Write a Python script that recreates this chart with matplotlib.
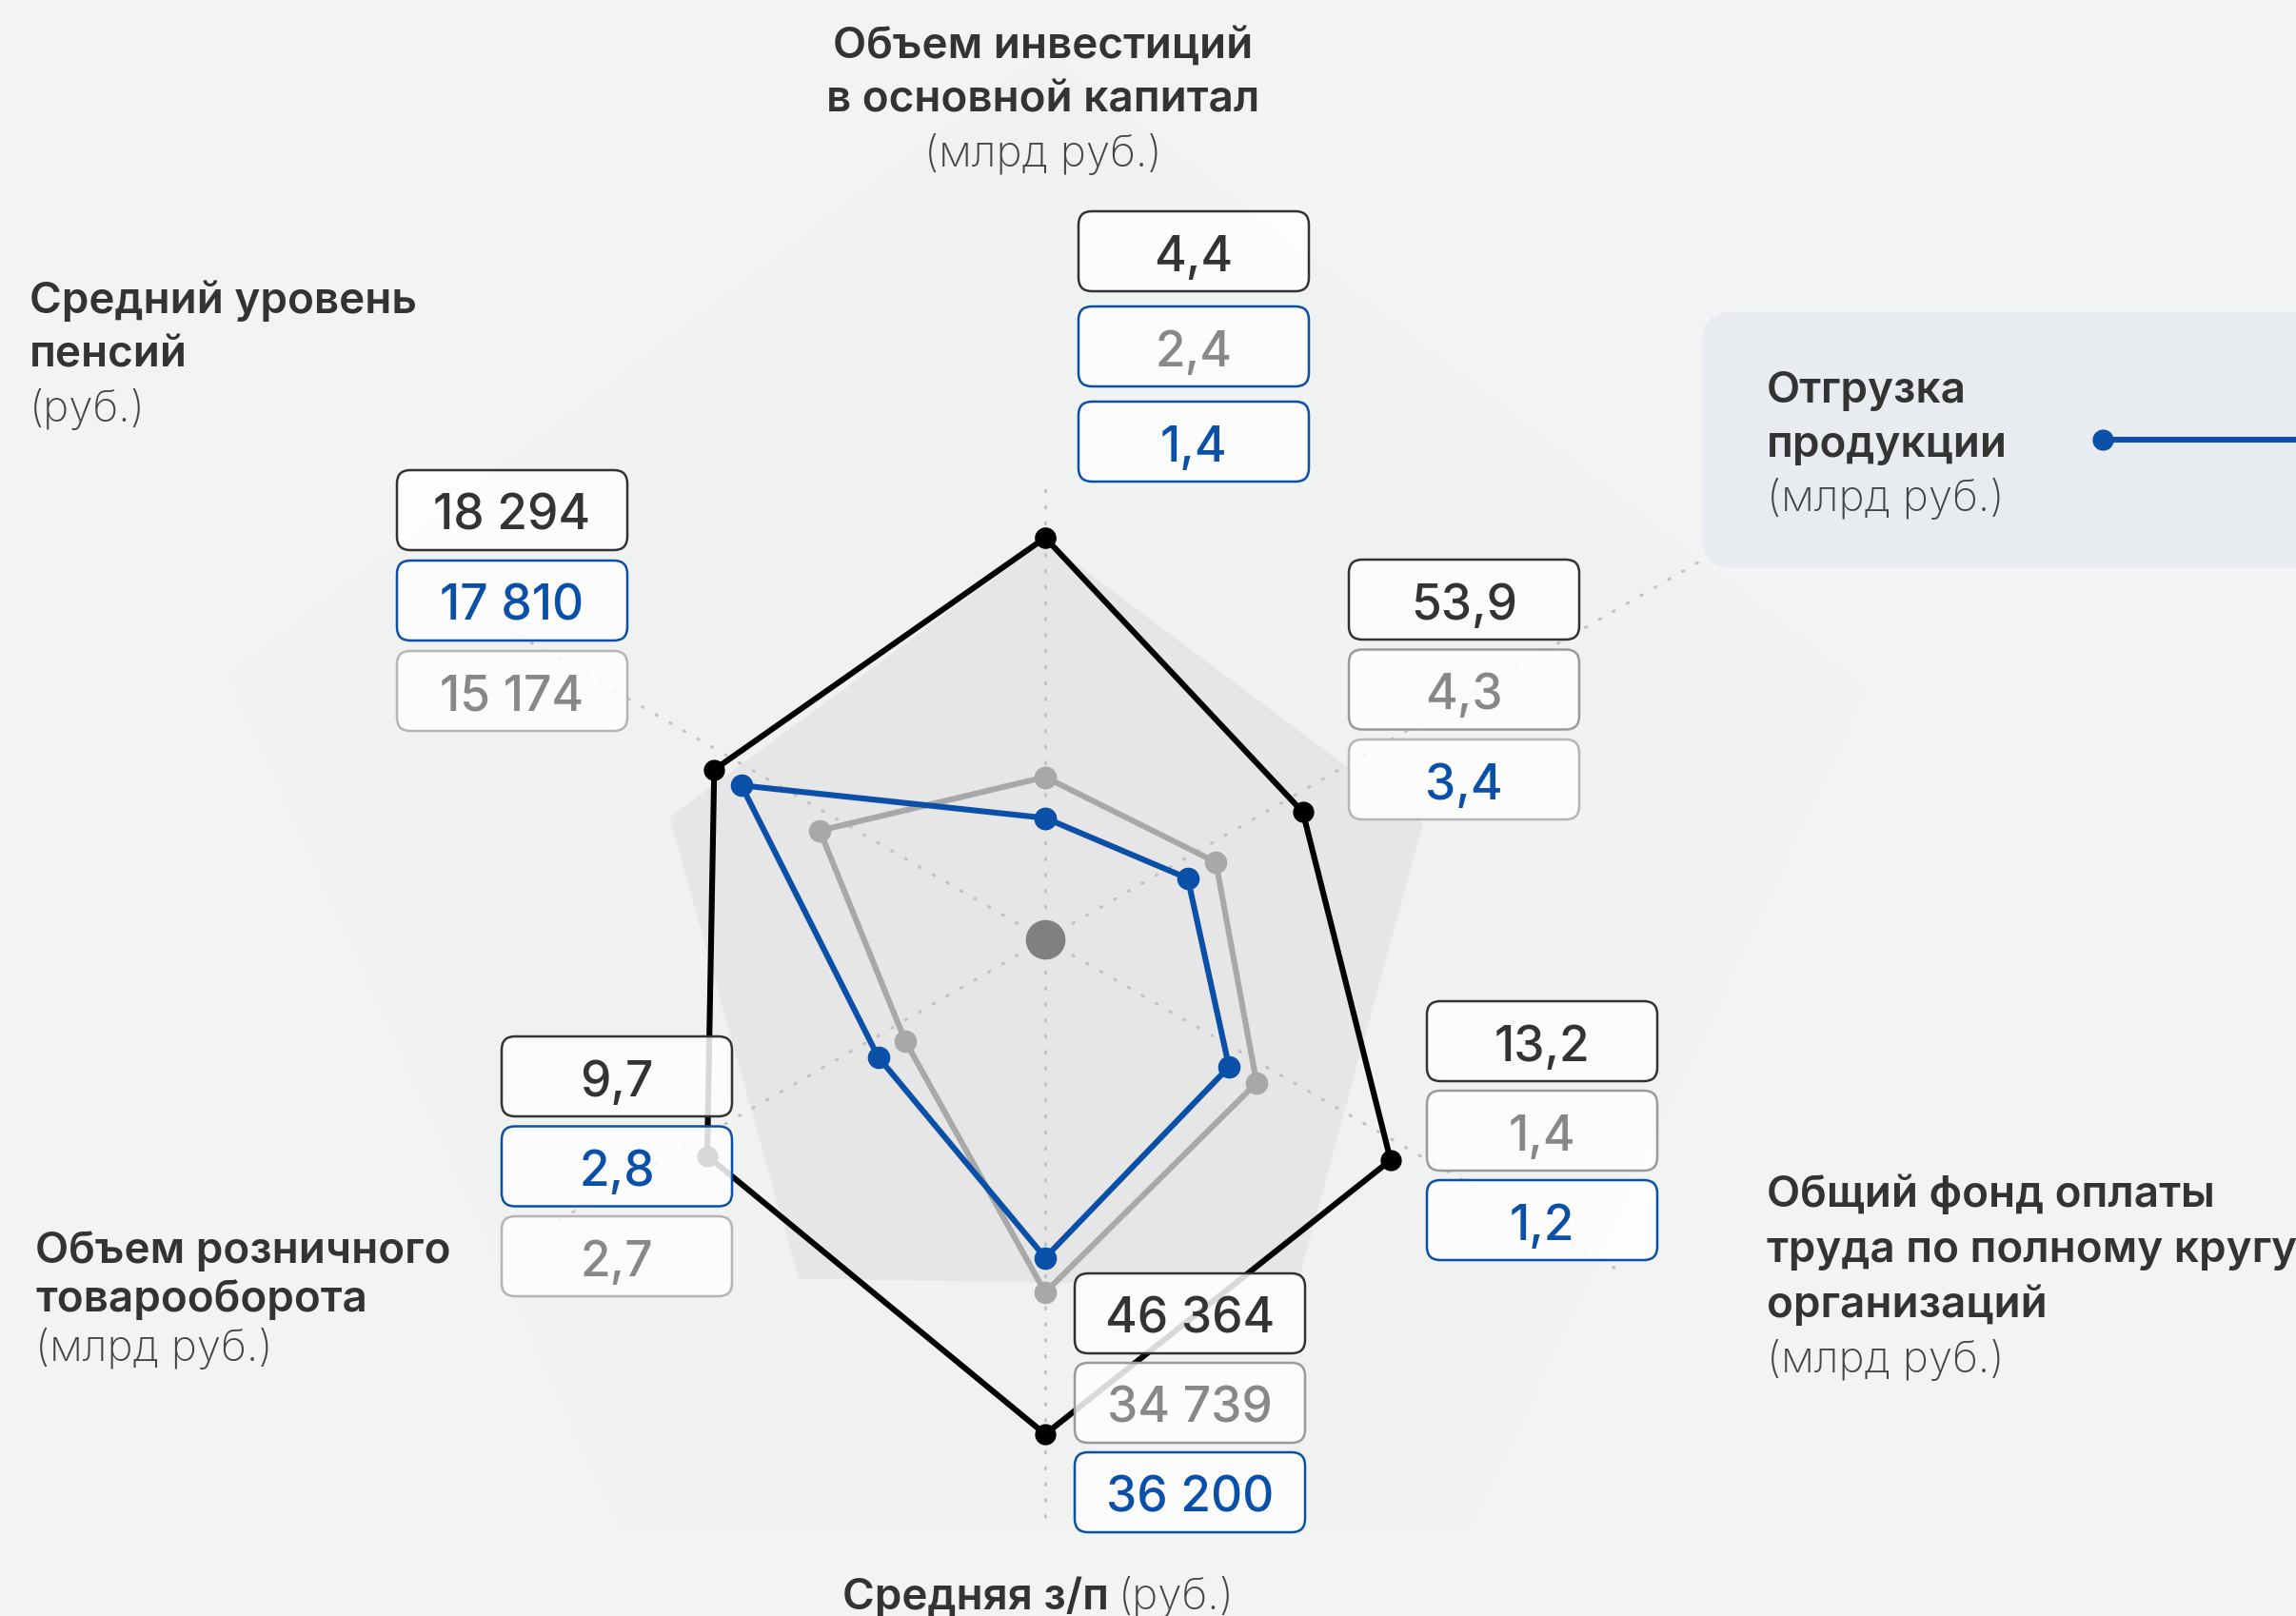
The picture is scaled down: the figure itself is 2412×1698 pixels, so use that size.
import numpy as np
import matplotlib.pyplot as plt
from matplotlib.patches import FancyBboxPatch

plt.rcParams['font.family'] = ['Inter', 'DejaVu Sans']

W, H = 2412, 1699

# six axes, clockwise from the top
axis_titles = [
    ['Объем инвестиций', 'в основной капитал', '(млрд руб.)'],
    ['Отгрузка', 'продукции', '(млрд руб.)'],
    ['Общий фонд оплаты', 'труда по полному кругу', 'организаций', '(млрд руб.)'],
    ['Средняя з/п', '(руб.)'],
    ['Объем розничного', 'товарооборота', '(млрд руб.)'],
    ['Средний уровень', 'пенсий', '(руб.)'],
]

# radial position of each point (share of the chart radius)
black_r = [0.889, 0.625, 0.838, 0.995, 0.820, 0.803]
grey_r = [0.386, 0.414, 0.513, 0.697, 0.339, 0.547]
blue_r = [0.300, 0.346, 0.446, 0.624, 0.405, 0.737]

# values printed in the boxes
black_vals = [4.4, 53.9, 13.2, 46364, 9.7, 18294]
grey_vals = [2.4, 4.3, 1.4, 34739, 2.7, 15174]
blue_vals = [1.4, 3.4, 1.2, 36200, 2.8, 17810]

# which series sits in which row of each box column
box_order = [
    ['black', 'grey', 'blue'],
    ['black', 'grey', 'blue'],
    ['black', 'grey', 'blue'],
    ['black', 'grey', 'blue'],
    ['black', 'blue', 'grey'],
    ['black', 'blue', 'grey'],
]

BLUE = '#0a4fa8'
DARK = '#333333'
GREY_TXT = '#888888'
BG = '#f2f3f3'

text_col = {'black': DARK, 'grey': GREY_TXT, 'blue': BLUE}
edge_col = {'black': '#333333', 'grey': '#9a9a9a', 'blue': BLUE}
# a couple of boxes have odd borders in the original
edge_override = {(0, 1): BLUE, (1, 2): '#b5b5b5', (4, 2): '#b5b5b5', (5, 2): '#b5b5b5'}

series = {
    'black': (black_r, black_vals, '#000000', 15),
    'grey': (grey_r, grey_vals, '#a8a8a8', 16),
    'blue': (blue_r, blue_vals, BLUE, 16),
}


def fmt(v):
    if v >= 1000:
        return f'{v:,.0f}'.replace(',', ' ')
    return f'{v:.1f}'.replace('.', ',')


fig = plt.figure(figsize=(W / 100, H / 100), dpi=100, facecolor=BG)

# ---- grid / background shapes (polar, centred on the grey dot) ----
gx, gy, gR = 1098, 988, 1000
gax = fig.add_axes([(gx - gR) / W, (H - gy - gR) / H, 2 * gR / W, 2 * gR / H],
                   projection='polar')
gax.set_ylim(0, gR)
gax.axis('off')
gax.set_zorder(0)

pent_ang = np.radians([90, 17, -54, 234, 162])
gax.fill(pent_ang, [930, 900, 760, 760, 900], color='#f0f1f1', zorder=0, clip_on=False)
gax.fill(pent_ang, [418, 414, 449, 440, 414], color='#e6e6e6', zorder=1)

grid_ang = np.radians([90, 30, -30, -90, 210, 150])
grid_len = [480, 800, 700, 620, 600, 650]
for a, l in zip(grid_ang, grid_len):
    gax.plot([a, a], [0, l], color='#c2c2c2', lw=2.2, linestyle=(0, (0.5, 5)),
             dash_capstyle='round', zorder=2, clip_on=False)
gax.plot([0], [0], 'o', color='#808080', ms=29, zorder=3)

# ---- data (polar, centred slightly lower as in the original) ----
cx, cy, R = 1098, 1010.5, 500
ax = fig.add_axes([(cx - R) / W, (H - cy - R) / H, 2 * R / W, 2 * R / H],
                  projection='polar')
ax.set_theta_zero_location('N')
ax.set_theta_direction(-1)
ax.set_ylim(0, 1)
ax.axis('off')
ax.set_zorder(1)

theta = np.radians(np.arange(6) * 60)
theta_c = np.append(theta, theta[0])
for z, name in enumerate(['grey', 'blue', 'black']):
    r, _, col, ms = series[name]
    ax.plot(theta_c, r + r[:1], color=col, lw=4.4, marker='o', ms=ms,
            zorder=2 + z, clip_on=False)

# ---- overlay in pixel coordinates: labels and value boxes ----
ov = fig.add_axes([0, 0, 1, 1])
ov.set_xlim(0, W)
ov.set_ylim(H, 0)
ov.axis('off')
ov.set_zorder(2)
ov.patch.set_alpha(0)

# shipment label panel with the blue marker
ov.add_patch(FancyBboxPatch((1788, 329), 800, 269, boxstyle='round,pad=0,rounding_size=32',
                            fc='#e8ecf0', ec='none', zorder=1))
ov.plot([2209, W + 20], [463, 463], color=BLUE, lw=4.4, zorder=2, clip_on=False)
ov.plot([2209], [463], 'o', color=BLUE, ms=15, zorder=2)

col_pos = [(1254, 265), (1538, 631), (1620, 1095), (1250, 1381), (648, 1132), (538, 537)]
row_step = [100, 94.5, 94, 94, 94.5, 95]
bw, bh = 242, 84
for i, (x0, y0) in enumerate(col_pos):
    for j, name in enumerate(box_order[i]):
        yc = y0 + j * row_step[i]
        ec = edge_override.get((i, j), edge_col[name])
        ov.add_patch(FancyBboxPatch((x0 - bw / 2, yc - bh / 2), bw, bh,
                                    boxstyle='round,pad=0,rounding_size=14',
                                    fc=(1, 1, 1, 0.85), ec=ec, lw=1.8, zorder=3))
        val = series[name][1][i]
        ov.text(x0, yc + 20, fmt(val), ha='center', va='baseline', fontsize=37,
                fontweight='medium', color=text_col[name], zorder=4)

# axis titles: (x, first baseline, line step, alignment)
title_pos = [(1096, 61, 57, 'center'), (1856, 423, 57, 'left'), (1856, 1268, 58, 'left'),
             None, (37, 1327, 51.5, 'left'), (31, 329, 57, 'left')]
for i, lines in enumerate(axis_titles):
    if title_pos[i] is None:
        continue
    x, y, step, ha = title_pos[i]
    for k, line in enumerate(lines):
        light = line.startswith('(')
        ov.text(x, y + k * step, line, ha=ha, va='baseline', fontsize=33,
                fontweight='light' if light else 'semibold',
                color='#444444' if light else DARK)

# bottom title on one line
ov.text(885, 1691, axis_titles[3][0], ha='left', va='baseline', fontsize=33,
        fontweight='semibold', color=DARK)
ov.text(1175, 1691, axis_titles[3][1], ha='left', va='baseline', fontsize=33,
        fontweight='light', color='#444444')

fig.savefig('out.png', dpi=100, facecolor=BG)
